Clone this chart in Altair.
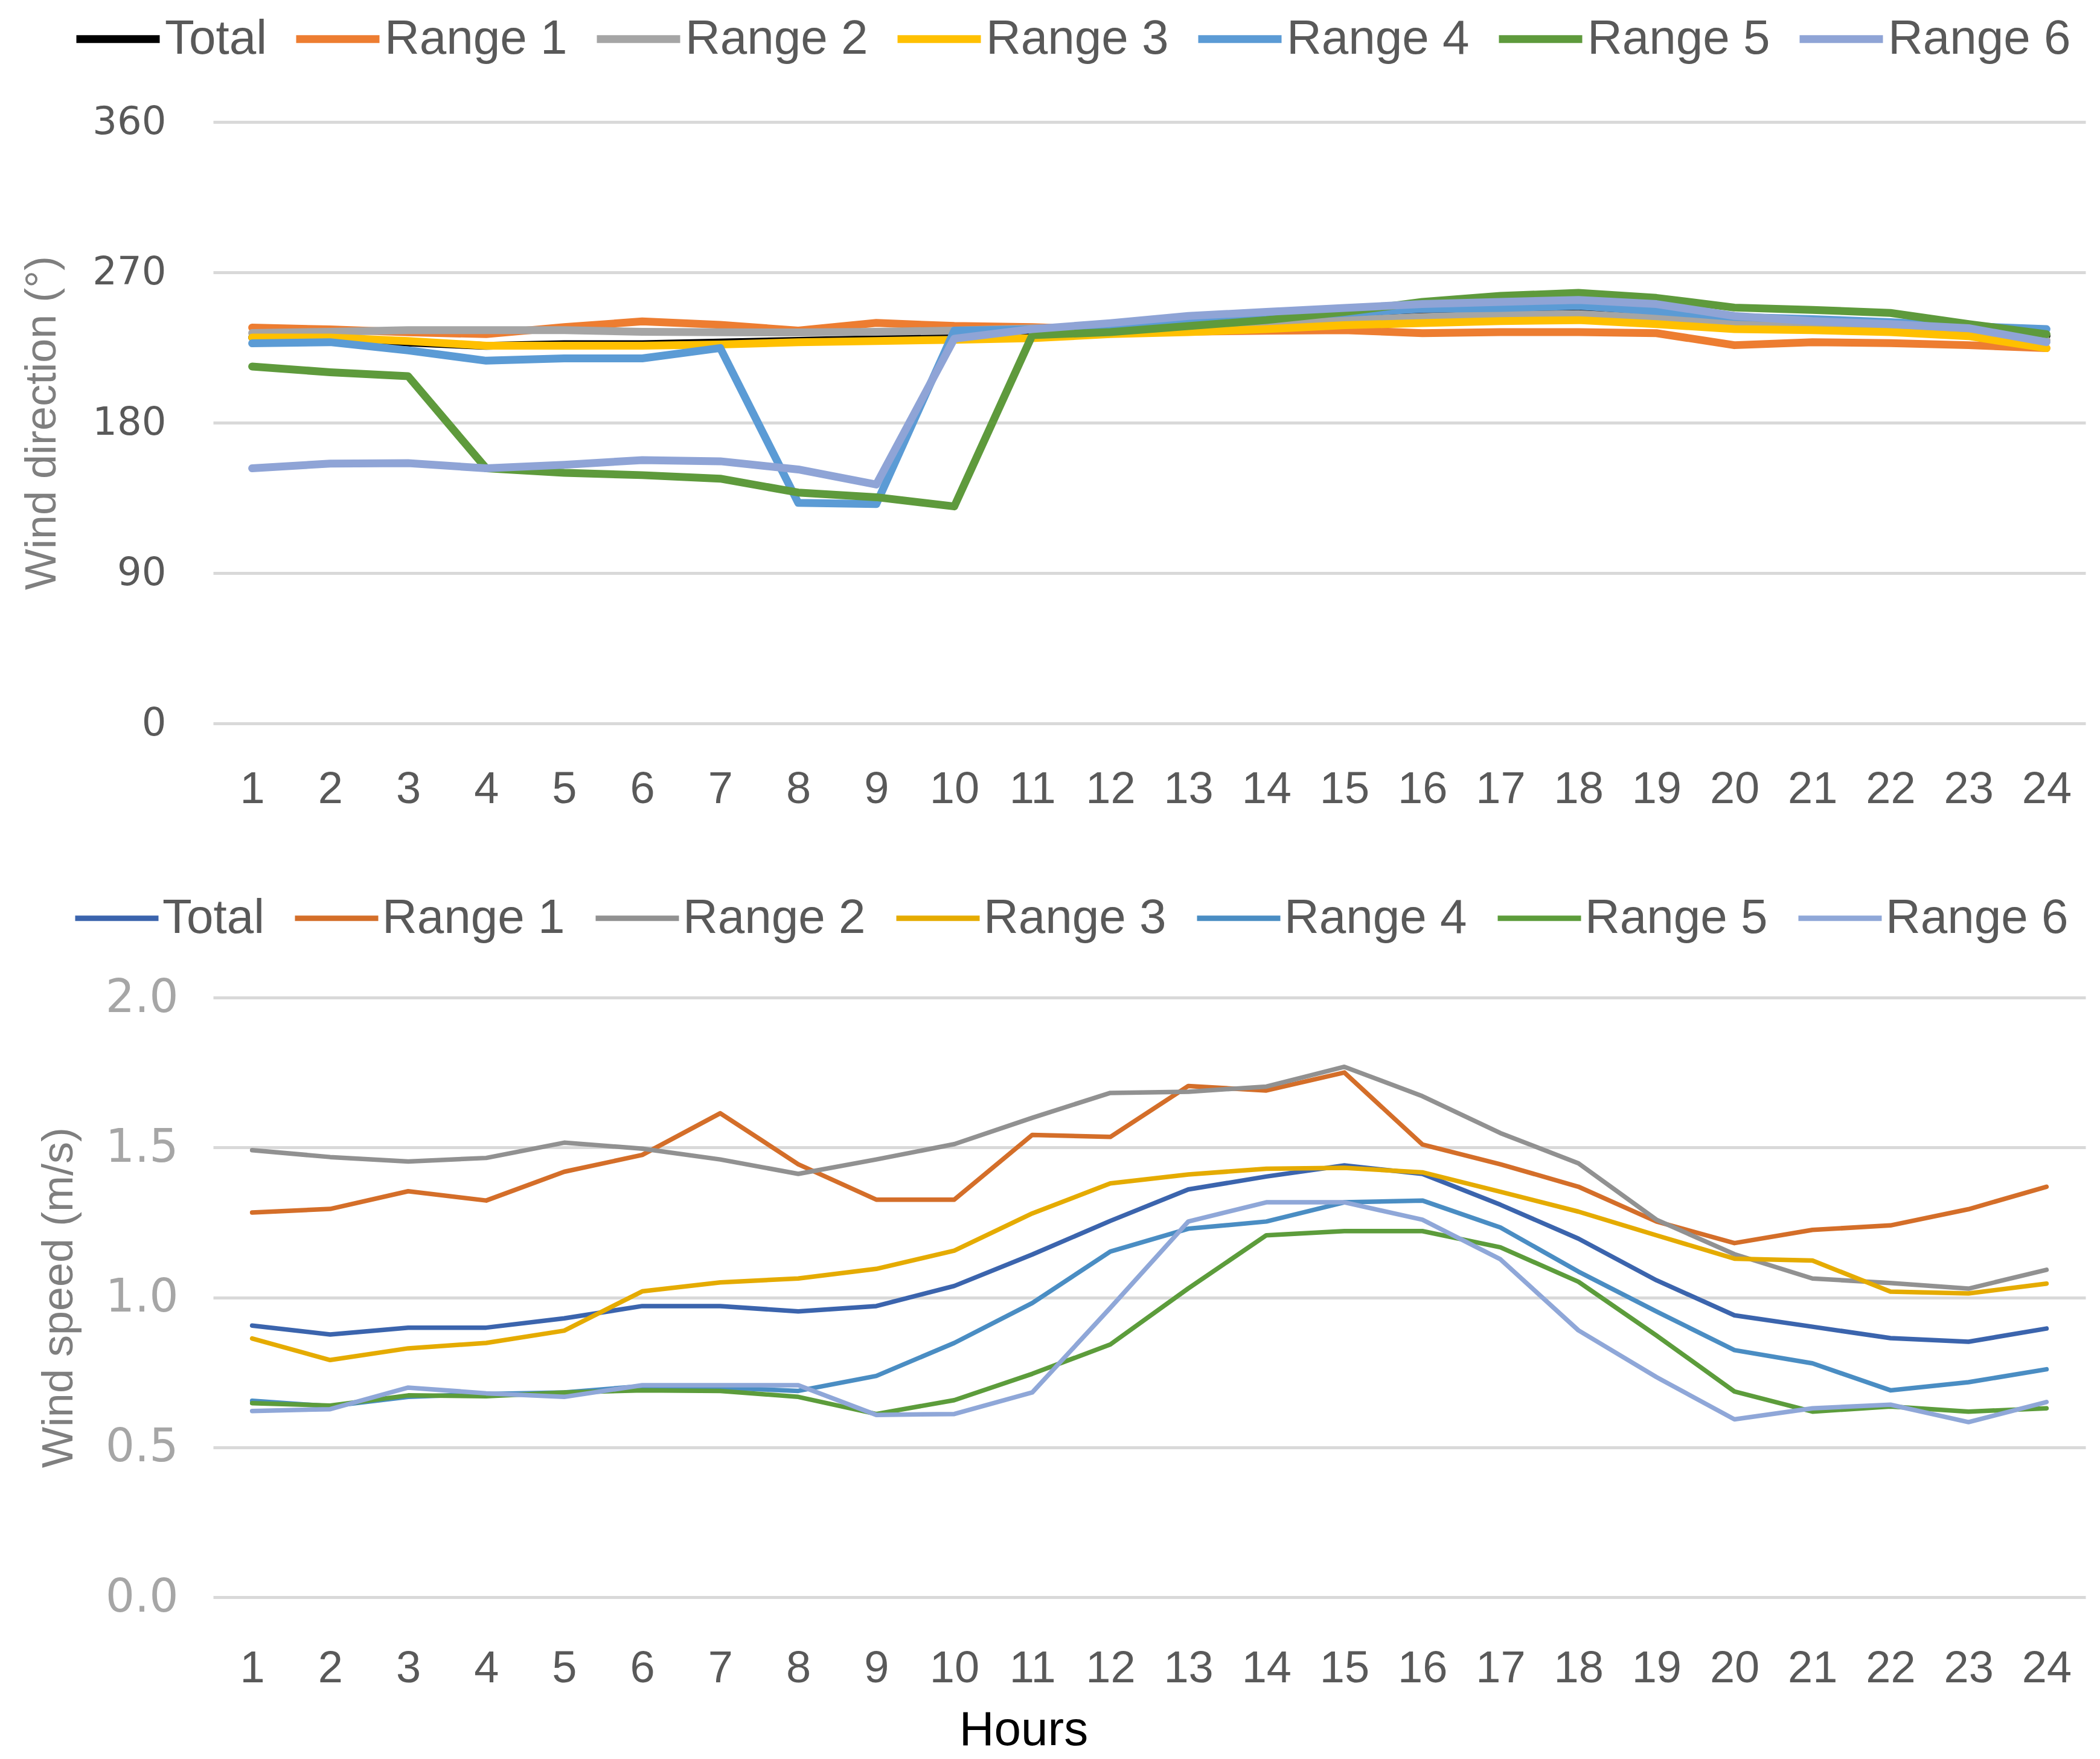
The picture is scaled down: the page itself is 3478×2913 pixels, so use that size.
import altair as alt
import pandas as pd

hours = list(range(1, 25))
series = ["Total", "Range 1", "Range 2", "Range 3", "Range 4", "Range 5", "Range 6"]

# Wind direction (deg)
dir_total = [231, 231, 228, 226, 227, 227, 228, 229, 230, 232, 234, 236, 238, 240, 242, 244, 245.5, 246, 244, 240, 239, 238, 236, 232]
dir_r1 = [236.9, 235.8, 234.1, 233, 237.2, 240.6, 238.6, 235.1, 239.7, 237.9, 237.2, 235.5, 234.5, 235, 235.4, 233.6, 234.2, 234.2, 233.6, 226.4, 228.2, 227.6, 226.4, 224.6]
dir_r2 = [233.7, 234.4, 235.4, 235.4, 235.4, 234.4, 234.1, 234, 234.4, 235.1, 236.5, 237, 237.8, 239.6, 241.4, 243.3, 244.5, 245, 242.6, 239, 237.8, 237.2, 235.4, 229.4]
dir_r3 = [231, 231, 228.9, 226.1, 226.1, 226.1, 226.8, 228.2, 228.9, 229.6, 230.6, 233, 234.2, 236, 238.4, 239.6, 240.8, 241.4, 239, 236, 235.4, 234.2, 231.8, 224.6]
dir_r4 = [227.5, 228.2, 223.3, 217.1, 218.5, 218.5, 224.7, 132, 131.3, 235.1, 235.8, 237.5, 240.5, 243.3, 245.7, 248.1, 248.7, 249.9, 246.9, 243.3, 242, 240.2, 237.8, 236]
dir_r5 = [213.6, 210.2, 207.8, 152.7, 150, 148.6, 146.5, 138.2, 135.4, 129.9, 232.4, 234.2, 237.8, 241.4, 246.3, 252.3, 255.9, 257.7, 254.7, 248.9, 247.5, 245.7, 239, 233]
dir_r6 = [152.7, 155.5, 155.8, 152.7, 154.8, 157.6, 156.9, 152, 143, 230.3, 236, 239.6, 243.9, 246.3, 248.7, 251, 252.3, 253.5, 251, 243.9, 240.8, 239, 236.6, 228.2]

# Wind speed (m/s)
spd_total = [0.906, 0.876, 0.899, 0.899, 0.930, 0.971, 0.971, 0.953, 0.971, 1.038, 1.143, 1.255, 1.360, 1.403, 1.440, 1.412, 1.309, 1.196, 1.057, 0.940, 0.902, 0.864, 0.852, 0.896]
spd_r1 = [1.283, 1.295, 1.354, 1.323, 1.419, 1.475, 1.614, 1.444, 1.326, 1.326, 1.542, 1.535, 1.705, 1.690, 1.750, 1.510, 1.444, 1.369, 1.253, 1.181, 1.225, 1.240, 1.294, 1.369]
spd_r2 = [1.491, 1.468, 1.453, 1.465, 1.516, 1.496, 1.460, 1.412, 1.460, 1.511, 1.599, 1.682, 1.686, 1.703, 1.769, 1.671, 1.548, 1.447, 1.259, 1.144, 1.063, 1.048, 1.029, 1.092]
spd_r3 = [0.863, 0.791, 0.830, 0.848, 0.889, 1.020, 1.050, 1.063, 1.095, 1.156, 1.280, 1.380, 1.410, 1.429, 1.432, 1.417, 1.352, 1.286, 1.207, 1.129, 1.123, 1.019, 1.013, 1.046]
spd_r4 = [0.655, 0.637, 0.668, 0.678, 0.683, 0.704, 0.699, 0.688, 0.738, 0.848, 0.981, 1.153, 1.229, 1.253, 1.317, 1.323, 1.233, 1.086, 0.953, 0.824, 0.780, 0.690, 0.717, 0.760]
spd_r5 = [0.647, 0.639, 0.673, 0.670, 0.683, 0.690, 0.688, 0.668, 0.611, 0.657, 0.745, 0.843, 1.030, 1.207, 1.221, 1.221, 1.167, 1.052, 0.873, 0.686, 0.619, 0.636, 0.619, 0.630]
spd_r6 = [0.621, 0.627, 0.699, 0.680, 0.668, 0.707, 0.707, 0.707, 0.608, 0.611, 0.683, 0.965, 1.253, 1.317, 1.317, 1.259, 1.127, 0.890, 0.734, 0.593, 0.630, 0.642, 0.584, 0.651]

top_colors = ["#000000", "#ED7D31", "#A5A5A5", "#FFC000", "#5B9BD5", "#5E9A3C", "#8FA4D6"]
top_widths = [13, 13, 13, 13, 15, 8, 10]
bot_colors = ["#3B64AD", "#D46E29", "#919191", "#E5AB00", "#4A8DC3", "#5C9C3B", "#8FA7D8"]


def long_df(lists):
    rows = []
    for name, vals in zip(series, lists):
        for h, v in zip(hours, vals):
            rows.append({"hour": h, "value": v, "series": name})
    return pd.DataFrame(rows)


df_dir = long_df([dir_total, dir_r1, dir_r2, dir_r3, dir_r4, dir_r5, dir_r6])
df_spd = long_df([spd_total, spd_r1, spd_r2, spd_r3, spd_r4, spd_r5, spd_r6])

LBL = "Liberation Sans"
NUM = "DejaVu Sans"


def legend(y, sw, colpad):
    return alt.Legend(
        title=None, orient="none", legendX=-233, legendY=y,
        direction="horizontal", columns=7, symbolType="stroke",
        symbolSize=138 * 138, symbolStrokeWidth=sw, labelFont=LBL, labelFontSize=80,
        labelColor="#595959", labelOffset=2, columnPadding=colpad,
        labelLimit=0,
    )


def x_axis(pad, title=None):
    kw = dict(labelAngle=0, labelFont=LBL, labelFontSize=74, labelColor="#595959",
              labelPadding=pad, ticks=False, domain=False, grid=False)
    if title:
        kw.update(title=title, titleFont=LBL, titleFontSize=80, titleColor="#000000",
                  titleFontWeight="normal", titlePadding=26, titleX=1342, titleAlign="center")
    else:
        kw.update(title=None)
    return alt.Axis(**kw)


top = alt.Chart(df_dir).mark_line(strokeJoin="round", strokeCap="round").encode(
    x=alt.X("hour:O", sort=hours, scale=alt.Scale(padding=0.5), axis=x_axis(73)),
    y=alt.Y("value:Q", scale=alt.Scale(domain=[0, 360], nice=False, zero=True),
            axis=alt.Axis(values=[0, 90, 180, 270, 360], title="Wind direction (°)",
                          titleFont=LBL, titleFontSize=72, titleColor="#7F7F7F",
                          titleFontWeight="normal", titlePadding=47,
                          labelFont=NUM, labelFontSize=64, labelColor="#595959",
                          labelPadding=78, ticks=False, domain=False,
                          gridColor="#D9D9D9", gridWidth=5)),
    color=alt.Color("series:N", sort=series,
                    scale=alt.Scale(domain=series, range=top_colors), legend=legend(-213, 14, 22)),
    strokeWidth=alt.StrokeWidth("series:O", sort=series,
                                scale=alt.Scale(domain=series, range=top_widths),
                                legend=None),
).properties(width=3101, height=996)

bottom = alt.Chart(df_spd).mark_line(strokeWidth=7.5, strokeJoin="round", strokeCap="round").encode(
    x=alt.X("hour:O", sort=hours, scale=alt.Scale(padding=0.5), axis=x_axis(82, "Hours")),
    y=alt.Y("value:Q", scale=alt.Scale(domain=[0, 2], nice=False, zero=True),
            axis=alt.Axis(values=[0, 0.5, 1.0, 1.5, 2.0], format=".1f", title="Wind speed (m/s)",
                          titleFont=LBL, titleFontSize=72, titleColor="#7F7F7F",
                          titleFontWeight="normal", titlePadding=40,
                          labelFont=NUM, labelFontSize=76, labelColor="#A6A6A6",
                          labelPadding=58, ticks=False, domain=False,
                          gridColor="#D9D9D9", gridWidth=5)),
    color=alt.Color("series:N", sort=series,
                    scale=alt.Scale(domain=series, range=bot_colors), legend=legend(-205, 9, 32)),
).properties(width=3101, height=993)

chart = alt.vconcat(top, bottom, spacing=103).resolve_scale(
    color="independent", strokeWidth="independent"
).properties(
    padding={"left": 25, "top": -19, "right": 10, "bottom": 2}, background="#FFFFFF"
).configure_view(stroke=None)

chart.save("out.html", embed_options={"renderer": "svg", "actions": False})
